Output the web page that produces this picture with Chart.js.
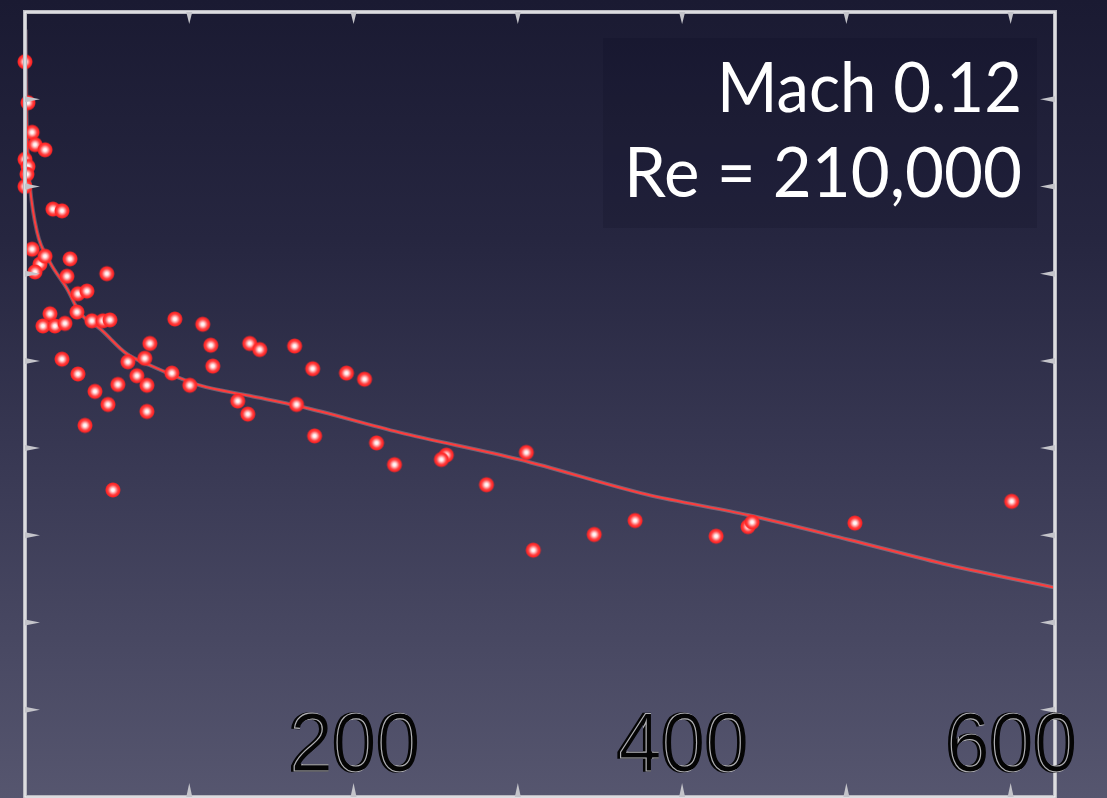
<!DOCTYPE html>
<html>
<head>
<meta charset="utf-8">
<script src="https://cdn.jsdelivr.net/npm/chart.js@4.4.1/dist/chart.umd.min.js"></script>
<style>
  html, body { margin: 0; padding: 0; overflow: hidden; }
  body {
    width: 1107px; height: 798px;
    background: linear-gradient(to bottom, #1a1a32 0%, #262640 30%, #3a3a55 60%, #56566f 100%);
  }
  canvas { display: block; }
</style>
</head>
<body>
<canvas id="plot" width="1107" height="806"></canvas>
<script>
// measured points
const pointX = [0, 1.8, 4.3, 6.1, 12.2, 0, 1.8, 1.2, 0, 17.0, 22.5, 4.3, 9.1, 12.2, 6.1, 27.4, 25.5, 49.8,
  32.2, 37.7, 15.2, 10.9, 18.2, 24.3, 31.6, 40.7, 47.4, 51.7, 91.2, 108.2, 76.0, 62.6, 72.9, 68.1, 74.2,
  113.1, 114.3, 136.8, 142.9, 164.1, 22.5, 32.2, 56.5, 89.4, 100.3, 129.5, 135.6, 165.3, 42.6, 50.5, 74.2,
  36.5, 175.1, 195.7, 206.7, 176.3, 214.0, 224.9, 53.5, 256.5, 253.5, 280.9, 305.2, 309.4, 346.5, 371.4,
  420.7, 440.1, 442.6, 505.2, 600.6];
const pointY = [8.43, 7.96, 7.62, 7.48, 7.42, 7.31, 7.23, 7.14, 7.0, 6.74, 6.72, 6.28, 6.11, 6.20, 6.02, 6.17, 5.97, 6.00,
  5.77, 5.80, 5.54, 5.40, 5.40, 5.43, 5.56, 5.46, 5.46, 5.47, 5.48, 5.42, 5.20, 4.99, 5.03, 4.83, 4.72,
  5.18, 4.94, 5.20, 5.13, 5.17, 5.02, 4.85, 4.73, 4.86, 4.72, 4.54, 4.39, 4.50, 4.65, 4.50, 4.42,
  4.26, 4.91, 4.86, 4.79, 4.14, 4.06, 3.81, 3.52, 3.92, 3.87, 3.58, 3.95, 2.83, 3.01, 3.17,
  2.99, 3.10, 3.15, 3.14, 3.39];

// fitted curve
const fitX = [0.4, 0.8, 1.5, 3, 7.3, 15.2, 25.5, 33.4, 45.6, 62.0, 76.0, 106.4, 136.8, 167.2, 228.0, 300.9, 378.1, 440.7, 501.5, 562.3, 627];
const fitY = [8.8, 8.0, 7.4, 7.0, 6.48, 6.13, 5.83, 5.55, 5.37, 5.08, 4.95, 4.72, 4.60, 4.48, 4.18, 3.87, 3.47, 3.23, 2.95, 2.66, 2.40];

const xLabels = [200, 400, 600];
const xMajor = [100, 200, 300, 400, 500, 600];
const yMajor = [1, 2, 3, 4, 5, 6, 7, 8];
const titleLines = ['Mach 0.12', 'Re = 210,000'];

// glowing red dot used as point style
function makeDot(r) {
  const c = document.createElement('canvas');
  const s = r * 2 + 2;
  c.width = c.height = s;
  const g = c.getContext('2d');
  const grad = g.createRadialGradient(s / 2, s / 2, 0, s / 2, s / 2, r);
  grad.addColorStop(0, '#ffffff');
  grad.addColorStop(0.18, '#fff0f0');
  grad.addColorStop(0.4, '#ff9a9a');
  grad.addColorStop(0.62, '#ff4040');
  grad.addColorStop(0.85, '#ff2222');
  grad.addColorStop(1, 'rgba(255,50,50,0)');
  g.fillStyle = grad;
  g.beginPath();
  g.arc(s / 2, s / 2, r, 0, Math.PI * 2);
  g.fill();
  return c;
}
const dot = makeDot(8);

const points = pointX.map((x, i) => ({ x: x, y: pointY[i] }));
const fit = fitX.map((x, i) => ({ x: x, y: fitY[i] }));

function tri(ctx, ax, ay, bx, by, cx, cy) {
  ctx.beginPath();
  ctx.moveTo(ax, ay); ctx.lineTo(bx, by); ctx.lineTo(cx, cy);
  ctx.closePath();
  ctx.fill();
}

const framePlugin = {
  id: 'frame',
  beforeDatasetsDraw(chart) {
    const ctx = chart.ctx;
    // slightly darker panel behind the caption
    ctx.save();
    ctx.fillStyle = 'rgba(12,12,32,0.18)';
    ctx.fillRect(603, 38, 434, 190);
    ctx.restore();
  },
  afterDraw(chart) {
    const ctx = chart.ctx;
    const a = chart.chartArea;
    const xs = chart.scales.x, ys = chart.scales.y;
    ctx.save();

    // frame
    ctx.strokeStyle = '#b9b9c0';
    ctx.lineWidth = 4;
    ctx.strokeRect(a.left, a.top, a.right - a.left, a.bottom - a.top);
    ctx.strokeStyle = '#efeff2';
    ctx.lineWidth = 1.3;
    ctx.strokeRect(a.left, a.top, a.right - a.left, a.bottom - a.top);

    // inward ticks
    ctx.fillStyle = '#c4c4ca';
    yMajor.forEach(v => {
      const py = ys.getPixelForValue(v);
      tri(ctx, a.left, py - 3, a.left + 15, py, a.left, py + 3);
      tri(ctx, a.right, py - 3, a.right - 15, py, a.right, py + 3);
    });
    xMajor.forEach(v => {
      const px = xs.getPixelForValue(v);
      tri(ctx, px - 3, a.top, px, a.top + 12, px + 3, a.top);
      tri(ctx, px - 3, a.bottom, px, a.bottom - 14, px + 3, a.bottom);
    });

    // big tick labels, black with a faint light inner line
    const off = document.createElement('canvas');
    off.width = chart.width; off.height = chart.height;
    const o = off.getContext('2d');
    o.font = '84px "Liberation Sans", Arial, sans-serif';
    o.textAlign = 'center';
    o.textBaseline = 'alphabetic';
    xLabels.forEach(v => {
      const px = xs.getPixelForValue(v);
      o.save();
      o.translate(px, 771);
      o.scale(0.94, 1);
      o.fillStyle = '#050505';
      o.strokeStyle = '#050505';
      o.lineWidth = 1.5;
      o.fillText(String(v), 0, 0);
      o.strokeText(String(v), 0, 0);
      o.restore();
    });
    o.globalCompositeOperation = 'source-atop';
    o.strokeStyle = 'rgba(235,235,240,0.75)';
    o.lineWidth = 1.2;
    xLabels.forEach(v => {
      const px = xs.getPixelForValue(v);
      o.save();
      o.translate(px + 2.5, 771);
      o.scale(0.94, 1);
      o.strokeText(String(v), 0, 0);
      o.restore();
    });
    ctx.drawImage(off, 0, 0);

    // caption
    ctx.fillStyle = '#ffffff';
    ctx.textAlign = 'right';
    ctx.textBaseline = 'alphabetic';
    ctx.font = '70px Lato, "Open Sans", sans-serif';
    const targets = [[305, 112], [398, 197]];
    titleLines.forEach((t, i) => {
      const w = ctx.measureText(t).width;
      const sx = Math.max(0.85, Math.min(1.15, targets[i][0] / w));
      ctx.save();
      ctx.translate(1022, targets[i][1]);
      ctx.scale(sx, 1);
      ctx.fillText(t, 0, 0);
      ctx.restore();
    });

    ctx.restore();
  }
};

new Chart(document.getElementById('plot'), {
  data: {
    datasets: [
      {
        type: 'scatter',
        data: points,
        pointStyle: dot,
        pointRadius: 8,
        pointHoverRadius: 8,
        clip: 10
      },
      {
        type: 'line',
        data: fit,
        borderColor: '#ff3c3c',
        borderWidth: 2,
        pointRadius: 0,
        cubicInterpolationMode: 'monotone',
        clip: 4
      },
      {
        type: 'line',
        data: fit,
        borderColor: 'rgba(255,200,200,0.3)',
        borderWidth: 4,
        pointRadius: 0,
        cubicInterpolationMode: 'monotone',
        clip: 4
      }
    ]
  },
  options: {
    responsive: false,
    animation: false,
    devicePixelRatio: 1,
    layout: { padding: { left: 25, right: 52, top: 12, bottom: 5 } },
    scales: {
      x: { type: 'linear', min: 0, max: 627, display: false },
      y: { type: 'linear', min: 0, max: 9, display: false }
    },
    plugins: {
      legend: { display: false },
      tooltip: { enabled: false }
    }
  },
  plugins: [framePlugin]
});
</script>
</body>
</html>
